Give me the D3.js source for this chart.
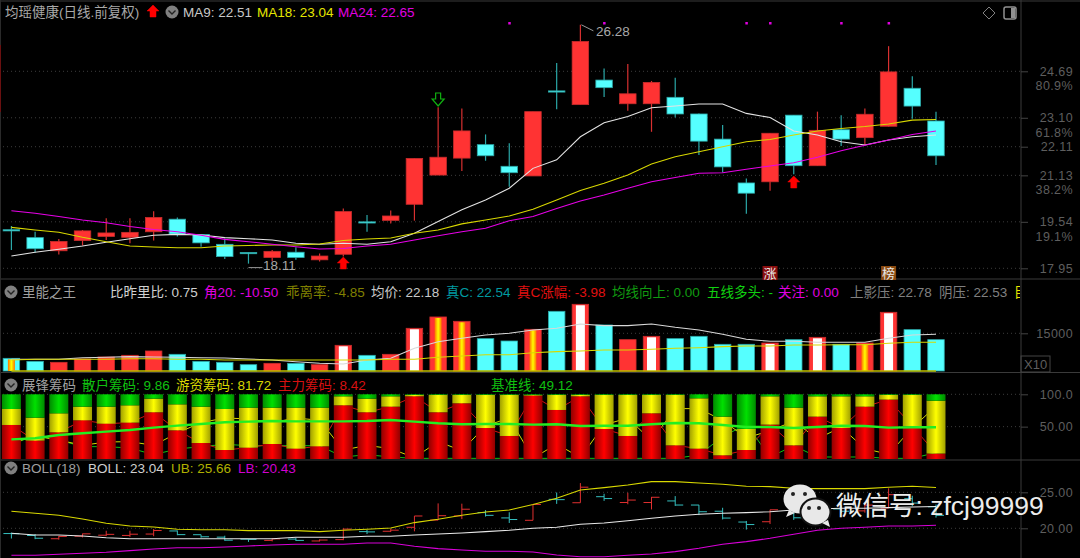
<!DOCTYPE html>
<html><head><meta charset="utf-8">
<script src="https://cdn.jsdelivr.net/npm/d3@7"></script>
<style>
html,body{margin:0;padding:0;background:#000;overflow:hidden}
svg{display:block}
text{font-family:"Liberation Sans","Noto Sans CJK SC",sans-serif}
</style></head><body><div id="c"></div>
<script>
// ---------- data ----------
const opens=[19.27,19.00,18.55,18.90,19.04,19.01,19.20,19.63,19.11,18.77,18.49,18.32,18.50,18.24,18.43,19.54,19.59,20.14,21.14,21.72,22.18,21.44,21.11,24.02,23.55,24.39,23.58,23.58,23.80,23.23,22.37,20.87,20.91,23.19,21.46,22.69,22.42,22.81,24.11,22.99];
const closes=[19.25,18.62,18.87,19.23,19.16,19.18,19.69,19.12,18.82,18.35,18.46,18.53,18.32,18.37,19.89,19.50,19.74,21.71,21.75,22.65,21.80,21.22,23.31,23.98,25.71,24.13,23.92,24.31,23.23,22.30,21.42,20.52,22.57,21.46,22.67,22.37,23.22,24.67,23.50,21.80];
const highs=[19.40,19.20,18.95,19.26,19.66,19.66,19.90,19.69,19.11,18.97,18.49,18.58,18.67,18.46,20.00,19.77,19.93,21.71,23.46,23.42,22.53,22.23,23.31,24.97,26.28,24.79,24.94,24.36,24.47,23.25,22.85,21.02,22.57,23.19,23.31,23.19,23.42,25.55,24.52,23.31];
const lows=[18.58,18.49,18.42,18.73,18.92,18.81,18.90,19.04,18.69,18.27,18.11,18.18,18.24,18.18,18.35,19.20,19.48,19.58,21.14,21.28,21.63,20.74,21.11,23.39,23.55,23.81,23.34,22.62,23.11,21.83,21.23,19.82,20.60,21.17,21.46,22.13,22.17,22.80,23.07,21.48];
const ma9=[18.37,18.50,18.60,18.71,18.84,18.96,19.08,19.11,19.09,19.00,18.96,18.92,18.81,18.77,18.81,18.77,18.86,19.15,19.55,19.95,20.29,20.69,21.37,21.66,22.45,22.93,23.14,23.44,23.50,23.57,23.57,23.25,23.11,22.65,22.51,22.28,22.17,22.34,22.45,22.51];
const ma18=[19.35,19.26,19.18,19.01,18.86,18.71,18.68,18.65,18.65,18.71,18.73,18.75,18.75,18.78,18.90,18.95,18.99,19.15,19.26,19.47,19.60,19.74,19.97,20.29,20.61,20.86,21.14,21.52,21.77,21.94,22.11,22.28,22.36,22.51,22.65,22.73,22.80,22.89,23.02,23.04];
const ma24=[19.92,19.83,19.72,19.60,19.51,19.38,19.28,19.20,19.08,18.94,18.86,18.77,18.69,18.61,18.63,18.71,18.77,18.92,19.06,19.20,19.32,19.58,19.72,20.00,20.25,20.46,20.69,20.91,21.06,21.20,21.22,21.34,21.45,21.56,21.75,21.97,22.16,22.34,22.53,22.65];
const volumes=[5040,3850,3450,4780,5570,6240,7960,6640,3850,3450,2520,3050,3050,2520,10220,6240,6640,16990,21500,19770,12870,11940,16590,23750,26540,18310,12470,13800,12870,13800,10620,10620,11150,12470,13400,10620,11150,23360,16450,12470];
const volStripes=["y","","","","","","","","","","","","","","w","","","w","y","y","","","y","","w","","","w","","","","","w","","w","","y","w","",""];
const volMaWhite=[4640,4640,4640,5310,5440,5710,5570,5440,5310,5180,4780,4380,3720,3050,2790,4380,5040,9020,11680,13000,14330,15000,16320,16990,18710,18050,18050,18710,17380,16320,14600,12610,11810,11810,11410,11410,11410,13000,14330,14600];
const volMaYellow=[4380,4640,4640,4640,4640,4910,4910,4640,4640,4380,4380,4380,4380,4380,4380,4380,4640,4640,5440,5970,6500,6500,7300,7700,7960,8360,8360,8630,9020,9290,9690,9950,9950,10350,10350,10480,10480,11010,11410,11410];
const chipGreen=[22.7,36.1,29.4,19.1,19.1,17.0,6.7,15.5,19.1,22.7,20.6,20.6,20.6,20.6,3.1,6.7,3.1,1.0,1.0,1.0,1.0,1.0,1.0,1.0,1.0,1.0,1.0,1.0,1.0,6.2,34.5,53.6,3.1,20.6,3.1,3.1,3.1,1.0,1.0,9.86];
const chipRed=[52.6,28.4,41.2,59.8,54.6,56.2,72.2,44.3,24.7,13.9,17.5,23.2,16.0,19.6,83.0,72.2,80.9,96.9,72.2,86.1,47.9,35.6,98.0,75.8,96.9,46.4,35.6,70.6,21.1,16.0,5.7,13.9,53.1,21.1,65.5,47.9,80.9,91.8,51.0,8.42];
const chipBase=[30.4,32.0,37.1,39.7,42.3,44.8,48.5,51.5,54.1,56.7,57.7,58.8,58.2,58.2,58.2,58.8,60.3,57.7,55.2,53.6,54.1,54.1,53.1,53.6,51.0,51.5,51.5,53.6,55.7,55.2,52.6,49.5,49.5,47.9,49.5,51.5,51.0,48.5,49.0,49.12];
const bollUb=[22.36,22.08,21.81,21.30,20.69,20.32,20.19,19.86,19.81,19.81,19.68,19.68,19.68,19.54,19.72,19.86,20.05,20.79,21.25,21.81,22.27,22.55,23.29,24.17,25.32,25.65,26.02,26.48,26.48,26.30,26.11,25.83,25.79,25.56,25.51,25.51,25.51,25.69,25.83,25.66];
const bollMid=[19.31,19.07,19.07,18.94,18.70,18.56,18.56,18.56,18.56,18.56,18.56,18.56,18.75,18.75,18.75,18.89,18.89,19.07,19.21,19.35,19.54,19.72,20.00,20.14,20.56,20.74,21.06,21.39,21.71,21.94,22.08,22.18,22.31,22.55,22.69,22.78,22.78,22.87,22.96,23.04];
const bollLb=[16.25,16.25,16.39,16.53,16.67,16.90,17.13,17.31,17.31,17.41,17.55,17.69,17.78,17.78,17.78,17.96,17.96,17.50,17.18,16.99,16.81,16.81,16.71,16.30,16.06,16.06,16.25,16.44,16.76,17.22,17.78,18.15,18.61,19.17,19.72,20.00,20.14,20.32,20.32,20.43];
const dotDays=[21,25,31,32,35,37];
const priceTicks=[24.69,23.10,22.11,21.13,19.54,17.95];
const pctTicks=[[24.69,"80.9%"],[23.10,"61.8%"],[21.13,"38.2%"],[19.54,"19.1%"]];
const volTicks=[15000], chipTicks=[100,50], bollTicks=[25,20];
const header1=[["均瑶健康(日线.前复权)",5,"#a8a8a8"],["MA9: 22.51",183,"#c8c8c8"],["MA18: 23.04",257,"#e6e600"],["MA24: 22.65",338,"#e000e0"]];
const header2=[["里能之王",22,"#a0a0a0"],["比昨里比: 0.75",110,"#d0d0d0"],["角20: -10.50",204,"#e000e0"],["乖离率: -4.85",286,"#808000"],["均价: 22.18",371,"#c8c8c8"],["真C: 22.54",446,"#009aa0"],["真C涨幅: -3.98",517,"#e01010"],["均线向上: 0.00",612,"#109a10"],["五线多头: -",707,"#10d010"],["关注: 0.00",778,"#e000e0"],["上影压: 22.78",850,"#808080"],["阴压: 22.53",939,"#808080"]];
const header3=[["展锋筹码",22,"#a0a0a0"],["散户筹码: 9.86",82,"#10c010"],["游资筹码: 81.72",176,"#d8d800"],["主力筹码: 8.42",278,"#d81010"],["基准线: 49.12",491,"#10c010"]];
const header4=[["BOLL(18)",22,"#a0a0a0"],["BOLL: 23.04",88,"#d0d0d0"],["UB: 25.66",171,"#b0b000"],["LB: 20.43",238,"#d000d0"]];

// ---------- layout ----------
const W=1080,H=558, AX=1021;
const svg=d3.select("#c").append("svg").attr("width",W).attr("height",H).style("background","#000");
const defs=svg.append("defs");
function grad(id,edge,mid){const g=defs.append("linearGradient").attr("id",id);
  g.append("stop").attr("offset","0%").attr("stop-color",edge);
  g.append("stop").attr("offset","50%").attr("stop-color",mid);
  g.append("stop").attr("offset","100%").attr("stop-color",edge);}
grad("gG","#008a00","#00e000");grad("gY","#a0a000","#ffff00");grad("gR","#900000","#ff0000");grad("gS","#ff7000","#ffff00");

const days=d3.range(40);
const x=d3.scaleLinear().domain([0,39]).range([11.4,936]);
const yP=d3.scaleLinear().domain([17.95,24.69]).range([268.3,71.3]);
const yV=d3.scaleLinear().domain([0,15000]).range([371,333.3]);
const yC=d3.scaleLinear().domain([0,100]).range([459,394.3]);
const yB=d3.scaleLinear().domain([20,25]).range([528.3,492.3]);
const CW=16.5, CHW=19;
const RED="#ff3333",CYAN="#55ffff",CYD="#2ba8a8",RDW="#d93030";

// frame
const frame=svg.append("g").attr("stroke","#3a3a3a").attr("fill","none");
[1,279,372.5,460].forEach(v=>frame.append("line").attr("x1",0).attr("x2",W).attr("y1",v).attr("y2",v));
frame.append("line").attr("x1",AX).attr("x2",AX).attr("y1",0).attr("y2",H);
frame.append("line").attr("x1",0.5).attr("x2",0.5).attr("y1",0).attr("y2",H).attr("stroke","#2a2a2a");
svg.append("line").attr("x1",0.5).attr("x2",0.5).attr("y1",45).attr("y2",112).attr("stroke","#6a1010");

// axes & dotted grid
const AXC="#5e5e5e";
function axis(scale,ticks,fmt){
  const g=svg.append("g").attr("transform",`translate(${AX},0)`)
    .call(d3.axisRight(scale).tickValues(ticks).tickSize(7).tickFormat(fmt));
  g.select(".domain").remove();
  g.selectAll("line").attr("stroke","#444");
  g.selectAll("text").attr("x",52).attr("text-anchor","end").attr("fill",AXC).attr("font-size",12.5).attr("letter-spacing",0.4).attr("font-family",'"Liberation Sans",sans-serif');
  svg.append("g").selectAll("line").data(ticks).join("line")
    .attr("x1",3).attr("x2",AX).attr("y1",d=>scale(d)).attr("y2",d=>scale(d))
    .attr("stroke","#3c3c3c").attr("stroke-dasharray","1 3");
}
axis(yP,priceTicks,d3.format(".2f"));
axis(yV,volTicks,d3.format("d"));
axis(yC,chipTicks,d=>d===100?"100.0":"50.00");
axis(yB,bollTicks,d3.format(".2f"));
svg.append("g").selectAll("text").data(pctTicks).join("text")
  .attr("x",1073).attr("y",d=>yP(d[0])+19).attr("text-anchor","end").attr("fill",AXC).attr("font-size",12.5).attr("letter-spacing",0.4).text(d=>d[1]);
svg.append("rect").attr("x",AX).attr("y",356).attr("width",29).attr("height",16).attr("fill","none").attr("stroke","#444");
svg.append("text").attr("x",1024).attr("y",369).attr("fill",AXC).attr("font-size",13).text("X10");

// headers
function header(rows,y){svg.append("g").selectAll("text").data(rows).join("text")
  .attr("x",d=>d[1]).attr("y",y).attr("fill",d=>d[2]).attr("font-size",13.5).text(d=>d[0]);}
header(header1,17);header(header2,297);header(header3,390);header(header4,473);
svg.append("text").attr("x",1014).attr("y",297).attr("fill","#e6e600").attr("font-size",13.5)
  .attr("clip-path","url(#cl)").text("目");
defs.append("clipPath").attr("id","cl").append("rect").attr("x",1000).attr("y",280).attr("width",20).attr("height",20);
function chevron(cx,cy){const g=svg.append("g");
  g.append("circle").attr("cx",cx).attr("cy",cy).attr("r",6.5).attr("fill","#808080");
  g.append("path").attr("d",`M${cx-3.5},${cy-1.5}L${cx},${cy+2}L${cx+3.5},${cy-1.5}`).attr("fill","none").attr("stroke","#222").attr("stroke-width",1.4);}
chevron(172,12);chevron(11,292);chevron(11,385);chevron(11,468);
function arrow(cx,top,color,hollow){ // up arrow or hollow down arrow
  const p=hollow?`M${cx-2.5},${top}h5v6h3.5l-6,7l-6,-7h3.5z`:`M${cx},${top}l6,6h-3v6h-6v-6h-3z`;
  svg.append("path").attr("d",p).attr("fill",hollow?"none":color).attr("stroke",color).attr("stroke-width",hollow?1.2:0.5);
}
arrow(153,5,"#ff0000");
// top-right glyphs
svg.append("path").attr("d","M989,7l6,6l-6,6l-6,-6z").attr("fill","none").attr("stroke","#808080");
svg.append("rect").attr("x",1004).attr("y",7).attr("width",12).attr("height",12).attr("rx",2).attr("fill","none").attr("stroke","#909090").attr("stroke-width",1.5);
svg.append("rect").attr("x",1011).attr("y",8).attr("width",4).attr("height",10).attr("fill","#909090");

// candles
const cg=svg.append("g");
cg.selectAll("line").data(days).join("line")
  .attr("x1",x).attr("x2",x).attr("y1",i=>yP(highs[i])).attr("y2",i=>yP(lows[i]))
  .attr("stroke",i=>closes[i]>=opens[i]?RDW:CYD).attr("stroke-width",1.2);
cg.selectAll("rect").data(days).join("rect")
  .attr("x",i=>x(i)-CW/2).attr("width",CW)
  .attr("y",i=>yP(Math.max(opens[i],closes[i])))
  .attr("height",i=>Math.max(1.2,Math.abs(yP(opens[i])-yP(closes[i]))))
  .attr("fill",i=>closes[i]>=opens[i]?RED:CYAN)
  .attr("stroke",i=>closes[i]>=opens[i]?"#c82c2c":CYD).attr("stroke-width",0.8);

// MAs
const ln=(arr,scale)=>d3.line().x((d,i)=>x(i)).y(d=>scale(d))(arr);
[[ma9,"#e4e4e4"],[ma18,"#d8d800"],[ma24,"#e800e8"]].forEach(([a,c])=>
  svg.append("path").attr("d",ln(a,yP)).attr("fill","none").attr("stroke",c).attr("stroke-width",1.05));

// magenta marker dots
svg.append("g").selectAll("rect").data(dotDays).join("rect")
  .attr("x",i=>x(i)-1).attr("y",22).attr("width",2.5).attr("height",2.5).attr("fill","#e000e0");
// arrows on candles
arrow(x(14),257,"#ff0000");arrow(x(33),176,"#ff0000");arrow(x(18),93,"#10b010",true);
// hi/lo labels
svg.append("path").attr("d",`M${x(24)+1},${yP(26.28)}l12,6`).attr("stroke","#999").attr("fill","none");
svg.append("text").attr("x",596).attr("y",36).attr("fill","#a8a8a8").attr("font-size",13.5).text("26.28");
svg.append("path").attr("d",`M${x(10)},${yP(18.11)+4}h14`).attr("stroke","#999").attr("fill","none");
svg.append("text").attr("x",263).attr("y",270).attr("fill","#a8a8a8").attr("font-size",13.5).text("18.11");
// badges
[[32,"涨","#8a0e0e"],[37,"榜","#8a4a10"]].forEach(([i,t,c])=>{
  svg.append("rect").attr("x",x(i)-7.5).attr("y",266).attr("width",15).attr("height",14).attr("fill",c);
  svg.append("text").attr("x",x(i)).attr("y",278).attr("text-anchor","middle").attr("fill","#e8e8e8").attr("font-size",13).text(t);
});

// volume bars
const vg=svg.append("g");
vg.selectAll("rect.b").data(days).join("rect").attr("class","b")
  .attr("x",i=>x(i)-CW/2).attr("width",CW).attr("y",i=>yV(volumes[i])).attr("height",i=>yV(0)-yV(volumes[i]))
  .attr("fill",i=>closes[i]>=opens[i]?RED:CYAN).attr("stroke",i=>closes[i]>=opens[i]?"#c82c2c":CYD).attr("stroke-width",0.8);
vg.selectAll("rect.s").data(days.filter(i=>volStripes[i])).join("rect").attr("class","s")
  .attr("x",i=>x(i)-(volStripes[i]==="w"?4.5:3.5)).attr("width",i=>volStripes[i]==="w"?9:7)
  .attr("y",i=>yV(volumes[i])+1).attr("height",i=>yV(0)-yV(volumes[i])-1)
  .attr("fill",i=>volStripes[i]==="w"?"#ffffff":"url(#gS)");
svg.append("path").attr("d",ln(volMaWhite,yV)).attr("fill","none").attr("stroke","#d8d8d8").attr("stroke-width",1.05);
svg.append("path").attr("d",ln(volMaYellow,yV)).attr("fill","none").attr("stroke","#d8d800").attr("stroke-width",1.05);
svg.append("path").attr("d",ln(days.map(()=>0),yV)).attr("fill","none").attr("stroke","#c0c000").attr("stroke-width",1.4);

// chip lines behind the bars
const chipYellow=days.map(i=>100-chipGreen[i]-chipRed[i]);
[[chipGreen,"#10c010"],[chipYellow,"#d8d800"],[chipRed,"#d01010"]].forEach(([a,c])=>
  svg.append("path").attr("d",ln(a,yC)).attr("fill","none").attr("stroke",c).attr("stroke-width",1));
const stack=days.map(i=>({i,r:chipRed[i],y:chipYellow[i],g:chipGreen[i]}));
const sg=svg.append("g");
sg.selectAll("rect.r").data(stack).join("rect").attr("class","r").attr("x",d=>x(d.i)-CHW/2).attr("width",CHW)
  .attr("y",d=>yC(d.r)).attr("height",d=>yC(0)-yC(d.r)).attr("fill","url(#gR)");
sg.selectAll("rect.y").data(stack).join("rect").attr("class","y").attr("x",d=>x(d.i)-CHW/2).attr("width",CHW)
  .attr("y",d=>yC(d.r+d.y)).attr("height",d=>yC(d.r)-yC(d.r+d.y)).attr("fill","url(#gY)");
sg.selectAll("rect.g").data(stack).join("rect").attr("class","g").attr("x",d=>x(d.i)-CHW/2).attr("width",CHW)
  .attr("y",d=>yC(100)).attr("height",d=>yC(d.r+d.y)-yC(100)).attr("fill","url(#gG)");
svg.append("path").attr("d",ln(chipBase,yC)).attr("fill","none").attr("stroke","#22ee22").attr("stroke-width",2.4);

// BOLL OHLC
const og=svg.append("g");
const colr=i=>closes[i]>=opens[i]?"#e03030":"#35c0c0";
og.selectAll("line.hl").data(days).join("line").attr("class","hl").attr("x1",x).attr("x2",x)
  .attr("y1",i=>yB(highs[i])).attr("y2",i=>yB(lows[i])).attr("stroke",colr);
og.selectAll("line.o").data(days).join("line").attr("class","o").attr("x1",i=>x(i)-8).attr("x2",x)
  .attr("y1",i=>yB(opens[i])).attr("y2",i=>yB(opens[i])).attr("stroke",colr);
og.selectAll("line.c").data(days).join("line").attr("class","c").attr("x1",x).attr("x2",i=>x(i)+8)
  .attr("y1",i=>yB(closes[i])).attr("y2",i=>yB(closes[i])).attr("stroke",colr);
[[bollUb,"#d8d800"],[bollMid,"#e8e8e8"],[bollLb,"#d800d8"]].forEach(([a,c])=>
  svg.append("path").attr("d",ln(a,yB)).attr("fill","none").attr("stroke",c).attr("stroke-width",1.05));

// watermark
const wm=svg.append("g").attr("fill","#e8e8e8");
wm.append("ellipse").attr("cx",800).attr("cy",499).attr("rx",16.5).attr("ry",14.5);
wm.append("path").attr("d","M789,510l-3,7l9,-4z");
wm.append("ellipse").attr("cx",815.5).attr("cy",512).attr("rx",15).attr("ry",13.5).attr("stroke","#111").attr("stroke-width",2);
wm.append("path").attr("d","M822,523l8,4l-2,-7z");
[[793,494],[805,494],[809,508],[819,508]].forEach(d=>wm.append("circle").attr("cx",d[0]).attr("cy",d[1]).attr("r",2).attr("fill","#222"));
svg.append("text").attr("x",836).attr("y",515).attr("fill","#ececec").attr("font-size",26.5).text("微信号: zfcj99999");
</script></body></html>
